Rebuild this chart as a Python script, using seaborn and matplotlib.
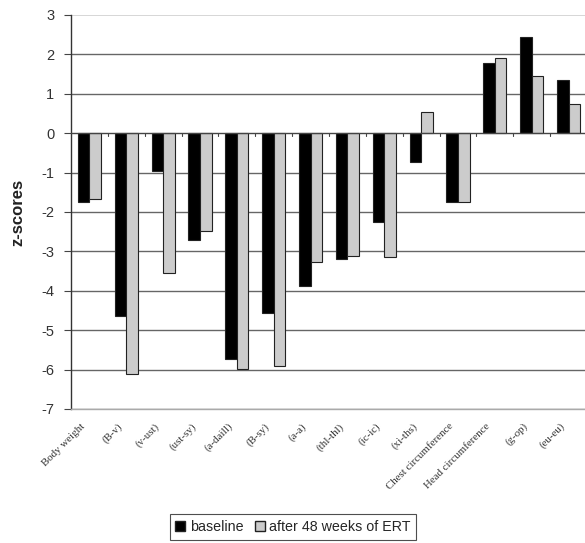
import matplotlib
matplotlib.use("Agg")
import matplotlib.pyplot as plt
import matplotlib.transforms as mtransforms
import seaborn as sns
import pandas as pd
import numpy as np
from matplotlib.patches import Patch

categories = ["Body weight", "(B-v)", "(v-ust)", "(ust-sy)", "(a-daill)", "(B-sy)",
              "(a-a)", "(thl-thl)", "(ic-ic)", "(xi-ths)", "Chest circumference",
              "Head circumference", "(g-op)", "(eu-eu)"]
baseline = [-1.75, -4.64, -0.95, -2.72, -5.74, -4.56, -3.87, -3.19, -2.25, -0.74,
            -1.75, 1.78, 2.43, 1.34]
after_ert = [-1.68, -6.12, -3.56, -2.49, -5.99, -5.91, -3.28, -3.11, -3.15, 0.54,
             -1.75, 1.92, 1.44, 0.73]
series_names = ["baseline", "after 48 weeks of ERT"]
y_ticks = list(range(-7, 4))

df = pd.DataFrame({
    "category": categories * 2,
    "value": baseline + after_ert,
    "series": [series_names[0]] * len(categories) + [series_names[1]] * len(categories),
})

sns.set_style("white")
plt.rcParams["font.family"] = ["Liberation Sans", "DejaVu Sans"]

fig = plt.figure(figsize=(5.85, 5.43), dpi=100)
ax = fig.add_axes([71 / 585, 1 - 409 / 543, 516 / 585, (409 - 15) / 543])

sns.barplot(data=df, x="category", y="value", hue="series", order=categories,
            hue_order=series_names, palette=["#000000", "#cccccc"], width=0.63,
            edgecolor="#222222", linewidth=0.8, ax=ax, legend=False, zorder=3)

ax.set_ylim(-7, 3)
ax.set_xlim(-0.5, len(categories) - 0.5)
ax.set_yticks(y_ticks)
ax.set_yticklabels([str(t) for t in y_ticks], fontsize=10.5, color="#333333")
for t in y_ticks:
    if t == 3:
        ax.axhline(t, color="#d0d0d0", lw=1.2, zorder=1)
    elif t == 0:
        ax.axhline(t, color="#444444", lw=1.0, zorder=4)
    else:
        ax.axhline(t, color="#666666", lw=1.0, zorder=1)

# category boundary tick marks on the zero axis
for b in np.arange(0.5, len(categories) - 0.5, 1.0):
    ax.plot([b, b], [0, -0.07], color="#444444", lw=0.8, zorder=4)

ax.set_xticks(range(len(categories)))
ax.set_xticklabels(categories, rotation=45, ha="right", rotation_mode="anchor",
                   fontsize=7.8, family="Liberation Serif", color="#333333")
ax.tick_params(axis="x", length=0, pad=9)
offset = mtransforms.ScaledTranslation(-9 / 100, 0, fig.dpi_scale_trans)
for lbl in ax.get_xticklabels():
    lbl.set_transform(lbl.get_transform() + offset)
ax.tick_params(axis="y", length=5, width=0.8, color="#444444", left=True, pad=7)

for s in ["top", "right"]:
    ax.spines[s].set_visible(False)
ax.spines["left"].set_color("#333333")
ax.spines["left"].set_linewidth(1.0)
ax.spines["bottom"].set_color("#aaaaaa")
ax.spines["bottom"].set_linewidth(1.0)

ax.set_xlabel("")
ax.set_ylabel("z-scores", fontsize=12, fontweight="bold", color="#222222")
ax.yaxis.set_label_coords(-0.088, 0.5)

handles = [Patch(facecolor="#000000", edgecolor="#222222", label=series_names[0]),
           Patch(facecolor="#cccccc", edgecolor="#222222", label=series_names[1])]
leg = fig.legend(handles=handles, loc="center", bbox_to_anchor=(293 / 585, 1 - 527 / 543),
                 ncol=2, frameon=True, fancybox=False, fontsize=10.3,
                 handlelength=0.7, handleheight=0.7, handletextpad=0.3,
                 columnspacing=0.8, borderpad=0.4)
leg.get_frame().set_edgecolor("#222222")
leg.get_frame().set_linewidth(0.8)

fig.savefig("out.png", dpi=100)
